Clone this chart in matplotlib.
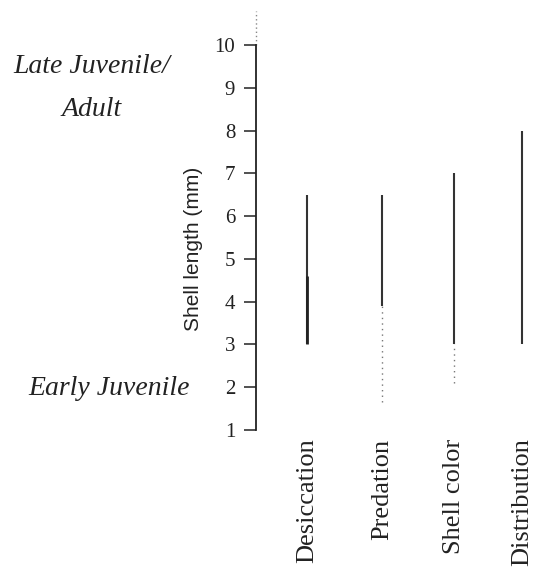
import matplotlib.pyplot as plt

# trait categories and shell length ranges (mm)
categories = ["Desiccation", "Predation", "Shell color", "Distribution"]
solid_low = [3.0, 3.9, 3.0, 3.0]
solid_high = [6.5, 6.5, 7.0, 8.0]
thick_low = [3.0, None, None, None]
thick_high = [4.6, None, None, None]
dotted_low = [None, 1.65, 2.1, None]
dotted_high = [None, 3.9, 3.0, None]
y_ticks = [1, 2, 3, 4, 5, 6, 7, 8, 9, 10]

plt.rcParams["font.family"] = ["Liberation Serif", "DejaVu Serif"]

fig = plt.figure(figsize=(5.33, 5.78), dpi=100)
ax = fig.add_axes([0.4803, 0.2486, 0.5197, 0.7327])

pos = [1, 2.05, 3.05, 4]
for i, name in enumerate(categories):
    x = pos[i]
    ax.plot([x, x], [solid_low[i], solid_high[i]], color="#333333", lw=1.5,
            solid_capstyle="butt")
    if thick_low[i] is not None:
        ax.plot([x, x], [thick_low[i], thick_high[i]], color="#222222", lw=2.0,
                solid_capstyle="butt")
    if dotted_low[i] is not None:
        ax.plot([x, x], [dotted_low[i], dotted_high[i]], color="#777777", lw=1.0,
                linestyle=(0, (1, 3)))

ax.set_xlim(0.289, 4.15)
ax.set_ylim(0.9, 10.8)

for s in ["top", "right", "bottom"]:
    ax.spines[s].set_visible(False)
ax.spines["left"].set_bounds(1, 10)
ax.spines["left"].set_linewidth(1.3)
ax.spines["left"].set_color("#222222")
# dotted extension of the axis above 10
ax.plot([0.289, 0.289], [10, 10.8], color="#888888", lw=1.0,
        linestyle=(0, (1, 2)), clip_on=False)

ax.set_yticks(y_ticks)
ax.set_yticklabels([str(t) for t in y_ticks], fontsize=15, color="#222222")
ax.tick_params(axis="y", direction="out", length=9, width=1.2, pad=6,
               color="#333333")

ax.set_xticks(pos)
ax.set_xticklabels(categories, rotation=90, fontsize=19, color="#222222",
                   va="top")
ax.tick_params(axis="x", length=0, pad=3)

ax.set_ylabel("Shell length (mm)", fontsize=15, family="Liberation Sans",
              color="#222222")
ax.yaxis.set_label_coords(-0.19, 0.4375)

fig.text(0.172, 0.885, "Late Juvenile/", fontsize=20, style="italic",
         ha="center", va="center", color="#222222")
fig.text(0.172, 0.81, "Adult", fontsize=20, style="italic",
         ha="center", va="center", color="#222222")
fig.text(0.205, 0.327, "Early Juvenile", fontsize=20, style="italic",
         ha="center", va="center", color="#222222")

fig.savefig("out.png", dpi=100)
